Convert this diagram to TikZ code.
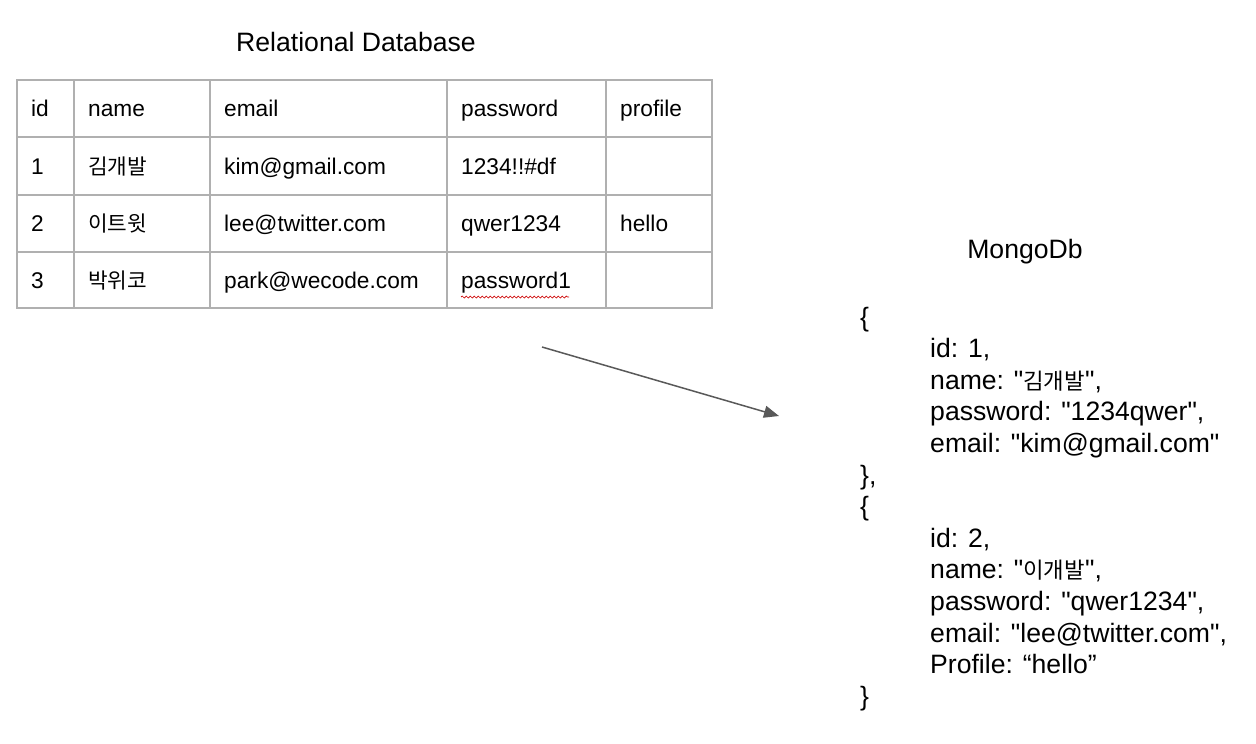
\documentclass[tikz,border=0pt]{standalone}
\usepackage{fontspec}
\setmainfont[Ligatures=TeXOff]{Liberation Sans}
\newfontfamily\krfont[Scale=0.94]{Noto Sans CJK KR}
\newfontfamily\krfontm[Scale=0.84]{Noto Sans CJK KR}
\usetikzlibrary{arrows.meta,decorations.pathmorphing}
\definecolor{gridgray}{HTML}{B0B0B0}
\definecolor{arrowgray}{HTML}{595959}
\tikzset{
  cell/.style={anchor=base west, inner sep=0pt, font=\fontsize{22.7}{27}\selectfont},
  big/.style={anchor=base west, inner sep=0pt, font=\fontsize{26.6}{31.6}\selectfont},
  bigc/.style={big, anchor=base},
  gridline/.style={draw=gridgray, line width=1.5pt},
  conn/.style={draw=arrowgray, line width=1.5pt, -{Triangle[length=15pt,width=12pt]}},
  squiggle/.style={draw=red!80!black, line width=0.7pt, decorate,
    decoration={snake, segment length=4pt, amplitude=1pt}}
}
\begin{document}
\begin{tikzpicture}[x=1pt,y=-1pt]
\useasboundingbox (0,0) rectangle (1256,744);
% title
\node[bigc] (title) at (356,51.5) {Relational Database};
% table grid
\draw[gridline] (17,80) rectangle (712,308);
\foreach \yy in {137,195,252} \draw[gridline] (17,\yy) -- (712,\yy);
\foreach \xx in {74,210,447,606} \draw[gridline] (\xx,80) -- (\xx,308);
% header
\node[cell] (h1) at (31,116.5) {id};
\node[cell] (h2) at (88,116.5) {name};
\node[cell] (h3) at (224,116.5) {email};
\node[cell] (h4) at (461,116.5) {password};
\node[cell] (h5) at (620,116.5) {profile};
% row 1
\node[cell] (r11) at (31,174) {1};
\node[cell] (r12) at (88,174) {\krfont 김개발};
\node[cell] (r13) at (224,174) {kim@gmail.com};
\node[cell] (r14) at (461,174) {1234!!\#df};
% row 2
\node[cell] (r21) at (31,231.5) {2};
\node[cell] (r22) at (88,231.5) {\krfont 이트윗};
\node[cell] (r23) at (224,231.5) {lee@twitter.com};
\node[cell] (r24) at (461,231.5) {qwer1234};
\node[cell] (r25) at (620,231.5) {hello};
% row 3
\node[cell] (r31) at (31,288) {3};
\node[cell] (r32) at (88,288) {\krfont 박위코};
\node[cell] (r33) at (224,288) {park@wecode.com};
\node[cell] (r34) at (461,288) {password1};
\draw[squiggle] (461,297) -- (569,297);
% arrow
\coordinate (astart) at (542,347);
\coordinate (aend) at (779,416);
\draw[conn] (astart) -- (aend);
% MongoDb
\node[bigc] (mtitle) at (1025,258.5) {MongoDb};
\node[big] (m0) at (860,326) {\{};
\node[big] (m1) at (930,357.6) {id: 1,};
\node[big] (m2) at (930,389.2) {name: "{\krfontm 김개발}",};
\node[big] (m3) at (930,420.8) {password: "1234qwer",};
\node[big] (m4) at (930,452.4) {email: "kim@gmail.com"};
\node[big] (m5) at (860,484) {\},};
\node[big] (m6) at (860,515.6) {\{};
\node[big] (m7) at (930,547.2) {id: 2,};
\node[big] (m8) at (930,578.8) {name: "{\krfontm 이개발}",};
\node[big] (m9) at (930,610.4) {password: "qwer1234",};
\node[big] (m10) at (930,642) {email: "lee@twitter.com",};
\node[big] (m11) at (930,673.6) {Profile: “hello”};
\node[big] (m12) at (860,705.2) {\}};
\end{tikzpicture}
\end{document}
